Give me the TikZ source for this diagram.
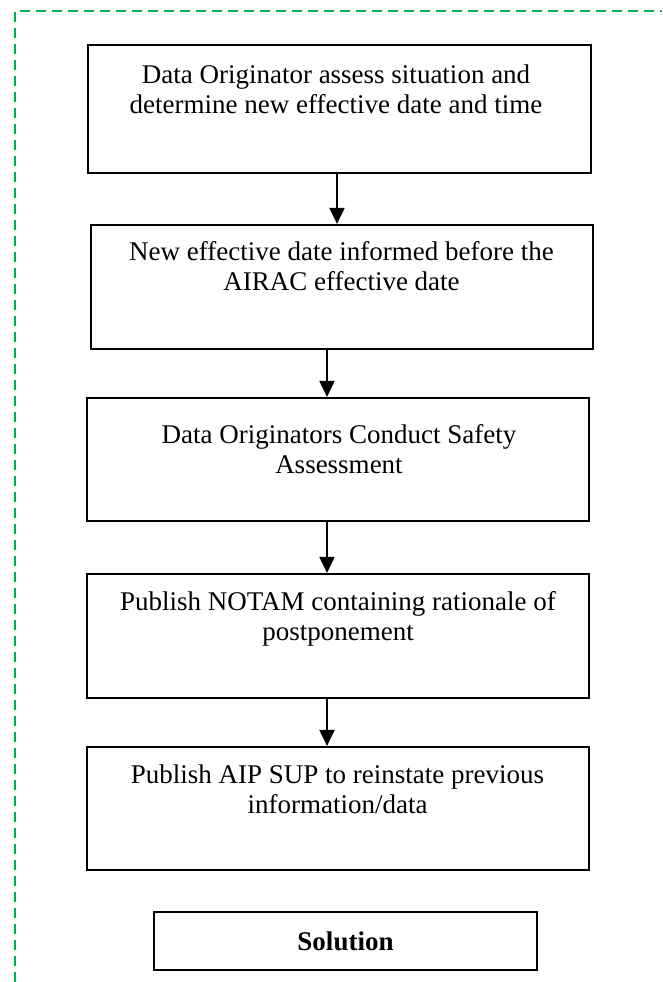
\documentclass[tikz,border=0pt]{standalone}
\usepackage{fontspec}
\setmainfont{Liberation Serif}
\usetikzlibrary{arrows.meta}
\definecolor{dashgreen}{RGB}{0,176,80}
\tikzset{
  stepbox/.style={draw=black, line width=2.2pt, rectangle, minimum width=502pt, minimum height=124pt, inner sep=0pt},
  boxtext/.style={anchor=north, inner sep=0pt, align=center, font=\fontsize{27}{30}\selectfont},
  arr/.style={line width=2pt, -{Triangle[width=15pt,length=16pt]}},
  frame/.style={draw=dashgreen, line width=2pt, dash pattern=on 10pt off 6pt}
}
\begin{document}
\begin{tikzpicture}[x=1pt,y=-1pt]
\useasboundingbox (0,0) rectangle (662,982);
\draw[frame] (15,982) -- (15,11) -- (662,11);

\node[stepbox, minimum width=503pt, minimum height=128pt] (b1) at (339.5,109) {};
\node[stepbox, minimum height=124pt] (b2) at (342,287) {};
\node[stepbox, minimum height=123pt] (b3) at (338,459.5) {};
\node[stepbox, minimum height=124pt] (b4) at (338,636) {};
\node[stepbox, minimum height=123pt] (b5) at (338,808.5) {};
\node[stepbox, minimum width=383pt, minimum height=58pt, font=\fontsize{27}{30}\selectfont\bfseries] (sol) at (345.5,941) {Solution};

\node[boxtext] (t1) at (336,64.5) {Data Originator assess situation and\\determine new effective date and time};
\node[boxtext] (t2) at (341.5,241.5) {New effective date informed before the\\AIRAC effective date};
\node[boxtext] (t3) at (339,424.5) {Data Originators Conduct Safety\\Assessment};
\node[boxtext] (t4) at (338,591.5) {Publish NOTAM containing rationale of\\postponement};
\node[boxtext] (t5) at (337.5,764.5) {Publish AIP SUP to reinstate previous\\information/data};

\draw[arr] (337,0 |- b1.south) -- (337,0 |- b2.north);
\draw[arr] (327,0 |- b2.south) -- (327,0 |- b3.north);
\draw[arr] (327,0 |- b3.south) -- (327,0 |- b4.north);
\draw[arr] (327,0 |- b4.south) -- (327,0 |- b5.north);
\end{tikzpicture}
\end{document}
